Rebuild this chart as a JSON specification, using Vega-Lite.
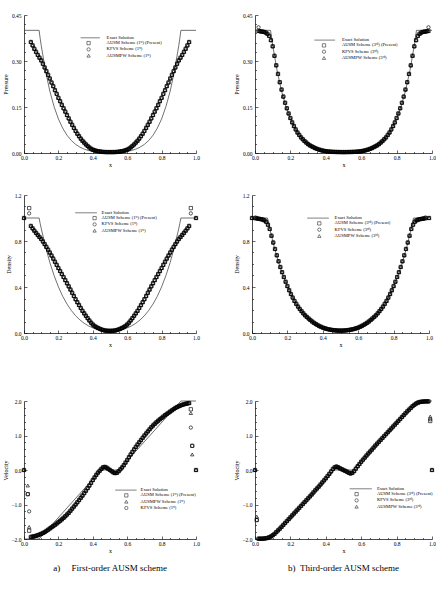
{
"$schema":"https://vega.github.io/schema/vega-lite/v6.json",
"background":"white",
"padding":{"left":2,"top":13,"right":0,"bottom":0},
"config":{"view":{"stroke":null},"font":"Liberation Serif",
"axis":{"labelFont":"Liberation Serif","labelFontSize":5.5,"labelColor":"black","titleFont":"Liberation Serif","titleFontSize":6,"titleFontWeight":"normal","titleColor":"black","domainColor":"black","domainWidth":0.7,"tickColor":"black","tickWidth":0.6,"grid":false,"labelFlush":false,"labelOverlap":false},
"legend":{"labelFont":"Liberation Serif","labelFontSize":4.6,"labelColor":"black","symbolSize":11,"symbolStrokeWidth":0.5,"symbolStrokeColor":"black","symbolFillColor":"transparent","padding":0,"rowPadding":0.3,"labelLimit":0}},
"datasets":{
"ex":[{"x":0,"p":0.4,"r":1},{"x":0.0878,"p":0.4,"r":1},{"x":0.0939,"p":0.374,"r":0.953},{"x":0.1,"p":0.351,"r":0.91},{"x":0.125,"p":0.268,"r":0.751},{"x":0.15,"p":0.202,"r":0.614},{"x":0.175,"p":0.151,"r":0.499},{"x":0.2,"p":0.111,"r":0.401},{"x":0.225,"p":0.0809,"r":0.319},{"x":0.25,"p":0.0579,"r":0.2515},{"x":0.275,"p":0.0408,"r":0.196},{"x":0.3,"p":0.0282,"r":0.15},{"x":0.325,"p":0.0191,"r":0.114},{"x":0.35,"p":0.0126,"r":0.0846},{"x":0.375,"p":0.0081,"r":0.0618},{"x":0.4,"p":0.0051,"r":0.0443},{"x":0.425,"p":0.0031,"r":0.0309},{"x":0.448,"p":0.0019,"r":0.0219},{"x":0.552,"p":0.0019,"r":0.0219},{"x":0.575,"p":0.0031,"r":0.0309},{"x":0.6,"p":0.0051,"r":0.0443},{"x":0.625,"p":0.0081,"r":0.0618},{"x":0.65,"p":0.0126,"r":0.0846},{"x":0.675,"p":0.0191,"r":0.114},{"x":0.7,"p":0.0282,"r":0.15},{"x":0.725,"p":0.0408,"r":0.196},{"x":0.75,"p":0.0579,"r":0.2515},{"x":0.775,"p":0.0809,"r":0.319},{"x":0.8,"p":0.111,"r":0.401},{"x":0.825,"p":0.151,"r":0.499},{"x":0.85,"p":0.202,"r":0.614},{"x":0.875,"p":0.268,"r":0.751},{"x":0.9,"p":0.351,"r":0.91},{"x":0.9061,"p":0.374,"r":0.953},{"x":0.9122,"p":0.4,"r":1},{"x":1,"p":0.4,"r":1}],
"ue":[{"x":0,"u":-2},{"x":0.0878,"u":-2},{"x":0.448,"u":0},{"x":0.552,"u":0},{"x":0.9122,"u":2},{"x":1,"u":2}],
"p1":[{"x":0.04,"a":0.362,"k":0.362,"w":0.362},{"x":0.05,"a":0.351,"k":0.351,"w":0.351},{"x":0.06,"a":0.34,"k":0.34,"w":0.34},{"x":0.07,"a":0.33,"k":0.33,"w":0.33},{"x":0.08,"a":0.32,"k":0.32,"w":0.32},{"x":0.09,"a":0.311,"k":0.311,"w":0.311},{"x":0.1,"a":0.302,"k":0.302,"w":0.302},{"x":0.11,"a":0.291,"k":0.291,"w":0.291},{"x":0.12,"a":0.279,"k":0.279,"w":0.279},{"x":0.13,"a":0.267,"k":0.267,"w":0.267},{"x":0.14,"a":0.255,"k":0.255,"w":0.255},{"x":0.15,"a":0.243,"k":0.243,"w":0.243},{"x":0.16,"a":0.23,"k":0.23,"w":0.23},{"x":0.17,"a":0.218,"k":0.218,"w":0.218},{"x":0.18,"a":0.205,"k":0.205,"w":0.205},{"x":0.19,"a":0.193,"k":0.193,"w":0.193},{"x":0.2,"a":0.18,"k":0.18,"w":0.18},{"x":0.21,"a":0.169,"k":0.169,"w":0.169},{"x":0.22,"a":0.157,"k":0.157,"w":0.157},{"x":0.23,"a":0.146,"k":0.146,"w":0.146},{"x":0.24,"a":0.135,"k":0.135,"w":0.135},{"x":0.25,"a":0.124,"k":0.124,"w":0.124},{"x":0.26,"a":0.113,"k":0.113,"w":0.113},{"x":0.27,"a":0.102,"k":0.102,"w":0.102},{"x":0.28,"a":0.092,"k":0.092,"w":0.092},{"x":0.29,"a":0.082,"k":0.082,"w":0.082},{"x":0.3,"a":0.072,"k":0.072,"w":0.072},{"x":0.31,"a":0.063,"k":0.063,"w":0.063},{"x":0.32,"a":0.055,"k":0.055,"w":0.055},{"x":0.33,"a":0.047,"k":0.047,"w":0.047},{"x":0.34,"a":0.04,"k":0.04,"w":0.04},{"x":0.35,"a":0.034,"k":0.034,"w":0.034},{"x":0.36,"a":0.028,"k":0.028,"w":0.028},{"x":0.37,"a":0.023,"k":0.023,"w":0.023},{"x":0.38,"a":0.018,"k":0.018,"w":0.018},{"x":0.39,"a":0.014,"k":0.014,"w":0.014},{"x":0.4,"a":0.011,"k":0.011,"w":0.011},{"x":0.41,"a":0.009,"k":0.009,"w":0.009},{"x":0.42,"a":0.007,"k":0.007,"w":0.007},{"x":0.43,"a":0.006,"k":0.006,"w":0.006},{"x":0.44,"a":0.005,"k":0.005,"w":0.005},{"x":0.45,"a":0.004,"k":0.004,"w":0.004},{"x":0.46,"a":0.0035,"k":0.0035,"w":0.0035},{"x":0.47,"a":0.0032,"k":0.0032,"w":0.0032},{"x":0.48,"a":0.003,"k":0.003,"w":0.003},{"x":0.49,"a":0.003,"k":0.003,"w":0.003},{"x":0.5,"a":0.003,"k":0.003,"w":0.003},{"x":0.51,"a":0.003,"k":0.003,"w":0.003},{"x":0.52,"a":0.003,"k":0.003,"w":0.003},{"x":0.53,"a":0.0032,"k":0.0032,"w":0.0032},{"x":0.54,"a":0.0035,"k":0.0035,"w":0.0035},{"x":0.55,"a":0.004,"k":0.004,"w":0.004},{"x":0.56,"a":0.005,"k":0.005,"w":0.005},{"x":0.57,"a":0.006,"k":0.006,"w":0.006},{"x":0.58,"a":0.007,"k":0.007,"w":0.007},{"x":0.59,"a":0.009,"k":0.009,"w":0.009},{"x":0.6,"a":0.011,"k":0.011,"w":0.011},{"x":0.61,"a":0.014,"k":0.014,"w":0.014},{"x":0.62,"a":0.018,"k":0.018,"w":0.018},{"x":0.63,"a":0.023,"k":0.023,"w":0.023},{"x":0.64,"a":0.028,"k":0.028,"w":0.028},{"x":0.65,"a":0.034,"k":0.034,"w":0.034},{"x":0.66,"a":0.04,"k":0.04,"w":0.04},{"x":0.67,"a":0.047,"k":0.047,"w":0.047},{"x":0.68,"a":0.055,"k":0.055,"w":0.055},{"x":0.69,"a":0.063,"k":0.063,"w":0.063},{"x":0.7,"a":0.072,"k":0.072,"w":0.072},{"x":0.71,"a":0.082,"k":0.082,"w":0.082},{"x":0.72,"a":0.092,"k":0.092,"w":0.092},{"x":0.73,"a":0.102,"k":0.102,"w":0.102},{"x":0.74,"a":0.113,"k":0.113,"w":0.113},{"x":0.75,"a":0.124,"k":0.124,"w":0.124},{"x":0.76,"a":0.135,"k":0.135,"w":0.135},{"x":0.77,"a":0.146,"k":0.146,"w":0.146},{"x":0.78,"a":0.157,"k":0.157,"w":0.157},{"x":0.79,"a":0.169,"k":0.169,"w":0.169},{"x":0.8,"a":0.18,"k":0.18,"w":0.18},{"x":0.81,"a":0.193,"k":0.193,"w":0.193},{"x":0.82,"a":0.205,"k":0.205,"w":0.205},{"x":0.83,"a":0.218,"k":0.218,"w":0.218},{"x":0.84,"a":0.23,"k":0.23,"w":0.23},{"x":0.85,"a":0.243,"k":0.243,"w":0.243},{"x":0.86,"a":0.255,"k":0.255,"w":0.255},{"x":0.87,"a":0.267,"k":0.267,"w":0.267},{"x":0.88,"a":0.279,"k":0.279,"w":0.279},{"x":0.89,"a":0.291,"k":0.291,"w":0.291},{"x":0.9,"a":0.302,"k":0.302,"w":0.302},{"x":0.91,"a":0.311,"k":0.311,"w":0.311},{"x":0.92,"a":0.32,"k":0.32,"w":0.32},{"x":0.93,"a":0.33,"k":0.33,"w":0.33},{"x":0.94,"a":0.34,"k":0.34,"w":0.34},{"x":0.95,"a":0.351,"k":0.351,"w":0.351},{"x":0.96,"a":0.362,"k":0.362,"w":0.362}],
"r1":[{"x":0,"a":1,"k":1,"w":1},{"x":0.03,"a":1.086,"k":1.04},{"x":0.04,"a":0.931,"k":0.931,"w":0.931},{"x":0.05,"a":0.91,"k":0.91,"w":0.91},{"x":0.06,"a":0.89,"k":0.89,"w":0.89},{"x":0.07,"a":0.871,"k":0.871,"w":0.871},{"x":0.08,"a":0.853,"k":0.853,"w":0.853},{"x":0.09,"a":0.835,"k":0.835,"w":0.835},{"x":0.1,"a":0.818,"k":0.818,"w":0.818},{"x":0.11,"a":0.796,"k":0.796,"w":0.796},{"x":0.12,"a":0.773,"k":0.773,"w":0.773},{"x":0.13,"a":0.749,"k":0.749,"w":0.749},{"x":0.14,"a":0.725,"k":0.725,"w":0.725},{"x":0.15,"a":0.7,"k":0.7,"w":0.7},{"x":0.16,"a":0.674,"k":0.674,"w":0.674},{"x":0.17,"a":0.647,"k":0.647,"w":0.647},{"x":0.18,"a":0.62,"k":0.62,"w":0.62},{"x":0.19,"a":0.593,"k":0.593,"w":0.593},{"x":0.2,"a":0.565,"k":0.565,"w":0.565},{"x":0.21,"a":0.539,"k":0.539,"w":0.539},{"x":0.22,"a":0.513,"k":0.513,"w":0.513},{"x":0.23,"a":0.487,"k":0.487,"w":0.487},{"x":0.24,"a":0.46,"k":0.46,"w":0.46},{"x":0.25,"a":0.433,"k":0.433,"w":0.433},{"x":0.26,"a":0.406,"k":0.406,"w":0.406},{"x":0.27,"a":0.378,"k":0.378,"w":0.378},{"x":0.28,"a":0.35,"k":0.35,"w":0.35},{"x":0.29,"a":0.322,"k":0.322,"w":0.322},{"x":0.3,"a":0.294,"k":0.294,"w":0.294},{"x":0.31,"a":0.268,"k":0.268,"w":0.268},{"x":0.32,"a":0.243,"k":0.243,"w":0.243},{"x":0.33,"a":0.218,"k":0.218,"w":0.218},{"x":0.34,"a":0.193,"k":0.193,"w":0.193},{"x":0.35,"a":0.171,"k":0.171,"w":0.171},{"x":0.36,"a":0.15,"k":0.15,"w":0.15},{"x":0.37,"a":0.129,"k":0.129,"w":0.129},{"x":0.38,"a":0.109,"k":0.109,"w":0.109},{"x":0.39,"a":0.09,"k":0.09,"w":0.09},{"x":0.4,"a":0.074,"k":0.074,"w":0.074},{"x":0.41,"a":0.062,"k":0.062,"w":0.062},{"x":0.42,"a":0.052,"k":0.052,"w":0.052},{"x":0.43,"a":0.044,"k":0.044,"w":0.044},{"x":0.44,"a":0.037,"k":0.037,"w":0.037},{"x":0.45,"a":0.031,"k":0.031,"w":0.031},{"x":0.46,"a":0.026,"k":0.026,"w":0.026},{"x":0.47,"a":0.022,"k":0.022,"w":0.022},{"x":0.48,"a":0.02,"k":0.02,"w":0.02},{"x":0.49,"a":0.019,"k":0.019,"w":0.019},{"x":0.5,"a":0.019,"k":0.019,"w":0.019},{"x":0.51,"a":0.019,"k":0.019,"w":0.019},{"x":0.52,"a":0.02,"k":0.02,"w":0.02},{"x":0.53,"a":0.022,"k":0.022,"w":0.022},{"x":0.54,"a":0.026,"k":0.026,"w":0.026},{"x":0.55,"a":0.031,"k":0.031,"w":0.031},{"x":0.56,"a":0.037,"k":0.037,"w":0.037},{"x":0.57,"a":0.044,"k":0.044,"w":0.044},{"x":0.58,"a":0.052,"k":0.052,"w":0.052},{"x":0.59,"a":0.062,"k":0.062,"w":0.062},{"x":0.6,"a":0.074,"k":0.074,"w":0.074},{"x":0.61,"a":0.09,"k":0.09,"w":0.09},{"x":0.62,"a":0.109,"k":0.109,"w":0.109},{"x":0.63,"a":0.129,"k":0.129,"w":0.129},{"x":0.64,"a":0.15,"k":0.15,"w":0.15},{"x":0.65,"a":0.171,"k":0.171,"w":0.171},{"x":0.66,"a":0.193,"k":0.193,"w":0.193},{"x":0.67,"a":0.218,"k":0.218,"w":0.218},{"x":0.68,"a":0.243,"k":0.243,"w":0.243},{"x":0.69,"a":0.268,"k":0.268,"w":0.268},{"x":0.7,"a":0.294,"k":0.294,"w":0.294},{"x":0.71,"a":0.322,"k":0.322,"w":0.322},{"x":0.72,"a":0.35,"k":0.35,"w":0.35},{"x":0.73,"a":0.378,"k":0.378,"w":0.378},{"x":0.74,"a":0.406,"k":0.406,"w":0.406},{"x":0.75,"a":0.433,"k":0.433,"w":0.433},{"x":0.76,"a":0.46,"k":0.46,"w":0.46},{"x":0.77,"a":0.487,"k":0.487,"w":0.487},{"x":0.78,"a":0.513,"k":0.513,"w":0.513},{"x":0.79,"a":0.539,"k":0.539,"w":0.539},{"x":0.8,"a":0.565,"k":0.565,"w":0.565},{"x":0.81,"a":0.593,"k":0.593,"w":0.593},{"x":0.82,"a":0.62,"k":0.62,"w":0.62},{"x":0.83,"a":0.647,"k":0.647,"w":0.647},{"x":0.84,"a":0.674,"k":0.674,"w":0.674},{"x":0.85,"a":0.7,"k":0.7,"w":0.7},{"x":0.86,"a":0.725,"k":0.725,"w":0.725},{"x":0.87,"a":0.749,"k":0.749,"w":0.749},{"x":0.88,"a":0.773,"k":0.773,"w":0.773},{"x":0.89,"a":0.796,"k":0.796,"w":0.796},{"x":0.9,"a":0.818,"k":0.818,"w":0.818},{"x":0.91,"a":0.835,"k":0.835,"w":0.835},{"x":0.92,"a":0.853,"k":0.853,"w":0.853},{"x":0.93,"a":0.871,"k":0.871,"w":0.871},{"x":0.94,"a":0.89,"k":0.89,"w":0.89},{"x":0.95,"a":0.91,"k":0.91,"w":0.91},{"x":0.96,"a":0.931,"k":0.931,"w":0.931},{"x":0.97,"a":1.086,"k":1.04},{"x":1,"a":1,"k":1,"w":1}],
"u1":[{"x":0,"a":0,"k":0,"w":0},{"x":0.022,"a":-0.7,"k":-0.7,"w":-0.45},{"x":0.03,"a":-1.76,"k":-1.2,"w":-1.65},{"x":0.04,"a":-1.94,"k":-1.94,"w":-1.94},{"x":0.05,"a":-1.93,"k":-1.93,"w":-1.93},{"x":0.06,"a":-1.92,"k":-1.92,"w":-1.92},{"x":0.07,"a":-1.905,"k":-1.905,"w":-1.905},{"x":0.08,"a":-1.89,"k":-1.89,"w":-1.89},{"x":0.09,"a":-1.87,"k":-1.87,"w":-1.87},{"x":0.1,"a":-1.85,"k":-1.85,"w":-1.85},{"x":0.11,"a":-1.825,"k":-1.825,"w":-1.825},{"x":0.12,"a":-1.8,"k":-1.8,"w":-1.8},{"x":0.13,"a":-1.765,"k":-1.765,"w":-1.765},{"x":0.14,"a":-1.73,"k":-1.73,"w":-1.73},{"x":0.15,"a":-1.695,"k":-1.695,"w":-1.695},{"x":0.16,"a":-1.66,"k":-1.66,"w":-1.66},{"x":0.17,"a":-1.625,"k":-1.625,"w":-1.625},{"x":0.18,"a":-1.59,"k":-1.59,"w":-1.59},{"x":0.19,"a":-1.55,"k":-1.55,"w":-1.55},{"x":0.2,"a":-1.51,"k":-1.51,"w":-1.51},{"x":0.21,"a":-1.47,"k":-1.47,"w":-1.47},{"x":0.22,"a":-1.43,"k":-1.43,"w":-1.43},{"x":0.23,"a":-1.385,"k":-1.385,"w":-1.385},{"x":0.24,"a":-1.34,"k":-1.34,"w":-1.34},{"x":0.25,"a":-1.29,"k":-1.29,"w":-1.29},{"x":0.26,"a":-1.24,"k":-1.24,"w":-1.24},{"x":0.27,"a":-1.18,"k":-1.18,"w":-1.18},{"x":0.28,"a":-1.12,"k":-1.12,"w":-1.12},{"x":0.29,"a":-1.06,"k":-1.06,"w":-1.06},{"x":0.3,"a":-1,"k":-1,"w":-1},{"x":0.31,"a":-0.935,"k":-0.935,"w":-0.935},{"x":0.32,"a":-0.87,"k":-0.87,"w":-0.87},{"x":0.33,"a":-0.805,"k":-0.805,"w":-0.805},{"x":0.34,"a":-0.74,"k":-0.74,"w":-0.74},{"x":0.35,"a":-0.67,"k":-0.67,"w":-0.67},{"x":0.36,"a":-0.6,"k":-0.6,"w":-0.6},{"x":0.37,"a":-0.525,"k":-0.525,"w":-0.525},{"x":0.38,"a":-0.45,"k":-0.45,"w":-0.45},{"x":0.39,"a":-0.37,"k":-0.37,"w":-0.37},{"x":0.4,"a":-0.29,"k":-0.29,"w":-0.29},{"x":0.41,"a":-0.215,"k":-0.215,"w":-0.215},{"x":0.42,"a":-0.14,"k":-0.14,"w":-0.14},{"x":0.43,"a":-0.075,"k":-0.075,"w":-0.075},{"x":0.44,"a":-0.02,"k":-0.02,"w":-0.02},{"x":0.45,"a":0.035,"k":0.035,"w":0.035},{"x":0.46,"a":0.08,"k":0.08,"w":0.08},{"x":0.47,"a":0.09,"k":0.09,"w":0.09},{"x":0.48,"a":0.07,"k":0.07,"w":0.07},{"x":0.49,"a":0.035,"k":0.035,"w":0.035},{"x":0.5,"a":0,"k":0,"w":0},{"x":0.51,"a":-0.035,"k":-0.035,"w":-0.035},{"x":0.52,"a":-0.07,"k":-0.07,"w":-0.07},{"x":0.53,"a":-0.09,"k":-0.09,"w":-0.09},{"x":0.54,"a":-0.08,"k":-0.08,"w":-0.08},{"x":0.55,"a":-0.035,"k":-0.035,"w":-0.035},{"x":0.56,"a":0.02,"k":0.02,"w":0.02},{"x":0.57,"a":0.075,"k":0.075,"w":0.075},{"x":0.58,"a":0.14,"k":0.14,"w":0.14},{"x":0.59,"a":0.215,"k":0.215,"w":0.215},{"x":0.6,"a":0.29,"k":0.29,"w":0.29},{"x":0.61,"a":0.37,"k":0.37,"w":0.37},{"x":0.62,"a":0.45,"k":0.45,"w":0.45},{"x":0.63,"a":0.525,"k":0.525,"w":0.525},{"x":0.64,"a":0.6,"k":0.6,"w":0.6},{"x":0.65,"a":0.67,"k":0.67,"w":0.67},{"x":0.66,"a":0.74,"k":0.74,"w":0.74},{"x":0.67,"a":0.805,"k":0.805,"w":0.805},{"x":0.68,"a":0.87,"k":0.87,"w":0.87},{"x":0.69,"a":0.935,"k":0.935,"w":0.935},{"x":0.7,"a":1,"k":1,"w":1},{"x":0.71,"a":1.06,"k":1.06,"w":1.06},{"x":0.72,"a":1.12,"k":1.12,"w":1.12},{"x":0.73,"a":1.18,"k":1.18,"w":1.18},{"x":0.74,"a":1.24,"k":1.24,"w":1.24},{"x":0.75,"a":1.29,"k":1.29,"w":1.29},{"x":0.76,"a":1.34,"k":1.34,"w":1.34},{"x":0.77,"a":1.385,"k":1.385,"w":1.385},{"x":0.78,"a":1.43,"k":1.43,"w":1.43},{"x":0.79,"a":1.47,"k":1.47,"w":1.47},{"x":0.8,"a":1.51,"k":1.51,"w":1.51},{"x":0.81,"a":1.55,"k":1.55,"w":1.55},{"x":0.82,"a":1.59,"k":1.59,"w":1.59},{"x":0.83,"a":1.625,"k":1.625,"w":1.625},{"x":0.84,"a":1.66,"k":1.66,"w":1.66},{"x":0.85,"a":1.695,"k":1.695,"w":1.695},{"x":0.86,"a":1.73,"k":1.73,"w":1.73},{"x":0.87,"a":1.765,"k":1.765,"w":1.765},{"x":0.88,"a":1.8,"k":1.8,"w":1.8},{"x":0.89,"a":1.825,"k":1.825,"w":1.825},{"x":0.9,"a":1.85,"k":1.85,"w":1.85},{"x":0.91,"a":1.87,"k":1.87,"w":1.87},{"x":0.92,"a":1.89,"k":1.89,"w":1.89},{"x":0.93,"a":1.905,"k":1.905,"w":1.905},{"x":0.94,"a":1.92,"k":1.92,"w":1.92},{"x":0.95,"a":1.93,"k":1.93,"w":1.93},{"x":0.96,"a":1.94,"k":1.94,"w":1.94},{"x":0.97,"a":1.76,"k":1.23,"w":1.65},{"x":0.978,"a":0.7,"k":0.7,"w":0.45},{"x":1,"a":0,"k":0,"w":0}],
"p3":[{"x":0.02,"a":0.398,"k":0.41,"w":0.398},{"x":0.03,"a":0.397,"k":0.397,"w":0.397},{"x":0.04,"a":0.396,"k":0.396,"w":0.396},{"x":0.05,"a":0.395,"k":0.395,"w":0.395},{"x":0.06,"a":0.393,"k":0.393,"w":0.393},{"x":0.07,"a":0.389,"k":0.389,"w":0.389},{"x":0.08,"a":0.382,"k":0.382,"w":0.382},{"x":0.09,"a":0.368,"k":0.368,"w":0.368},{"x":0.1,"a":0.348,"k":0.348,"w":0.348},{"x":0.11,"a":0.317,"k":0.317,"w":0.317},{"x":0.12,"a":0.286,"k":0.286,"w":0.286},{"x":0.13,"a":0.258,"k":0.258,"w":0.258},{"x":0.14,"a":0.231,"k":0.231,"w":0.231},{"x":0.15,"a":0.207,"k":0.207,"w":0.207},{"x":0.16,"a":0.184,"k":0.184,"w":0.184},{"x":0.17,"a":0.164,"k":0.164,"w":0.164},{"x":0.18,"a":0.146,"k":0.146,"w":0.146},{"x":0.19,"a":0.129,"k":0.129,"w":0.129},{"x":0.2,"a":0.114,"k":0.114,"w":0.114},{"x":0.21,"a":0.1,"k":0.1,"w":0.1},{"x":0.22,"a":0.088,"k":0.088,"w":0.088},{"x":0.23,"a":0.077,"k":0.077,"w":0.077},{"x":0.24,"a":0.067,"k":0.067,"w":0.067},{"x":0.25,"a":0.059,"k":0.059,"w":0.059},{"x":0.26,"a":0.051,"k":0.051,"w":0.051},{"x":0.27,"a":0.045,"k":0.045,"w":0.045},{"x":0.28,"a":0.039,"k":0.039,"w":0.039},{"x":0.29,"a":0.034,"k":0.034,"w":0.034},{"x":0.3,"a":0.029,"k":0.029,"w":0.029},{"x":0.31,"a":0.025,"k":0.025,"w":0.025},{"x":0.32,"a":0.022,"k":0.022,"w":0.022},{"x":0.33,"a":0.019,"k":0.019,"w":0.019},{"x":0.34,"a":0.016,"k":0.016,"w":0.016},{"x":0.35,"a":0.0137,"k":0.0137,"w":0.0137},{"x":0.36,"a":0.0115,"k":0.0115,"w":0.0115},{"x":0.37,"a":0.0098,"k":0.0098,"w":0.0098},{"x":0.38,"a":0.0082,"k":0.0082,"w":0.0082},{"x":0.39,"a":0.007,"k":0.007,"w":0.007},{"x":0.4,"a":0.006,"k":0.006,"w":0.006},{"x":0.41,"a":0.0052,"k":0.0052,"w":0.0052},{"x":0.42,"a":0.0045,"k":0.0045,"w":0.0045},{"x":0.43,"a":0.0041,"k":0.0041,"w":0.0041},{"x":0.44,"a":0.0037,"k":0.0037,"w":0.0037},{"x":0.45,"a":0.0035,"k":0.0035,"w":0.0035},{"x":0.46,"a":0.0033,"k":0.0033,"w":0.0033},{"x":0.47,"a":0.0032,"k":0.0032,"w":0.0032},{"x":0.48,"a":0.0031,"k":0.0031,"w":0.0031},{"x":0.49,"a":0.003,"k":0.003,"w":0.003},{"x":0.5,"a":0.003,"k":0.003,"w":0.003},{"x":0.51,"a":0.003,"k":0.003,"w":0.003},{"x":0.52,"a":0.0031,"k":0.0031,"w":0.0031},{"x":0.53,"a":0.0032,"k":0.0032,"w":0.0032},{"x":0.54,"a":0.0033,"k":0.0033,"w":0.0033},{"x":0.55,"a":0.0035,"k":0.0035,"w":0.0035},{"x":0.56,"a":0.0037,"k":0.0037,"w":0.0037},{"x":0.57,"a":0.0041,"k":0.0041,"w":0.0041},{"x":0.58,"a":0.0045,"k":0.0045,"w":0.0045},{"x":0.59,"a":0.0052,"k":0.0052,"w":0.0052},{"x":0.6,"a":0.006,"k":0.006,"w":0.006},{"x":0.61,"a":0.007,"k":0.007,"w":0.007},{"x":0.62,"a":0.0082,"k":0.0082,"w":0.0082},{"x":0.63,"a":0.0098,"k":0.0098,"w":0.0098},{"x":0.64,"a":0.0115,"k":0.0115,"w":0.0115},{"x":0.65,"a":0.0137,"k":0.0137,"w":0.0137},{"x":0.66,"a":0.016,"k":0.016,"w":0.016},{"x":0.67,"a":0.019,"k":0.019,"w":0.019},{"x":0.68,"a":0.022,"k":0.022,"w":0.022},{"x":0.69,"a":0.025,"k":0.025,"w":0.025},{"x":0.7,"a":0.029,"k":0.029,"w":0.029},{"x":0.71,"a":0.034,"k":0.034,"w":0.034},{"x":0.72,"a":0.039,"k":0.039,"w":0.039},{"x":0.73,"a":0.045,"k":0.045,"w":0.045},{"x":0.74,"a":0.051,"k":0.051,"w":0.051},{"x":0.75,"a":0.059,"k":0.059,"w":0.059},{"x":0.76,"a":0.067,"k":0.067,"w":0.067},{"x":0.77,"a":0.077,"k":0.077,"w":0.077},{"x":0.78,"a":0.088,"k":0.088,"w":0.088},{"x":0.79,"a":0.1,"k":0.1,"w":0.1},{"x":0.8,"a":0.114,"k":0.114,"w":0.114},{"x":0.81,"a":0.129,"k":0.129,"w":0.129},{"x":0.82,"a":0.146,"k":0.146,"w":0.146},{"x":0.83,"a":0.164,"k":0.164,"w":0.164},{"x":0.84,"a":0.184,"k":0.184,"w":0.184},{"x":0.85,"a":0.207,"k":0.207,"w":0.207},{"x":0.86,"a":0.231,"k":0.231,"w":0.231},{"x":0.87,"a":0.258,"k":0.258,"w":0.258},{"x":0.88,"a":0.286,"k":0.286,"w":0.286},{"x":0.89,"a":0.317,"k":0.317,"w":0.317},{"x":0.9,"a":0.348,"k":0.348,"w":0.348},{"x":0.91,"a":0.368,"k":0.368,"w":0.368},{"x":0.92,"a":0.382,"k":0.382,"w":0.382},{"x":0.93,"a":0.389,"k":0.389,"w":0.389},{"x":0.94,"a":0.393,"k":0.393,"w":0.393},{"x":0.95,"a":0.395,"k":0.395,"w":0.395},{"x":0.96,"a":0.396,"k":0.396,"w":0.396},{"x":0.97,"a":0.397,"k":0.397,"w":0.397},{"x":0.98,"a":0.398,"k":0.41,"w":0.398}],
"r3":[{"x":0,"a":1,"k":1,"w":1},{"x":0.02,"a":0.998,"k":1.005,"w":0.998},{"x":0.03,"a":0.996,"k":0.996,"w":0.996},{"x":0.04,"a":0.993,"k":0.993,"w":0.993},{"x":0.05,"a":0.99,"k":0.99,"w":0.99},{"x":0.06,"a":0.987,"k":0.987,"w":0.987},{"x":0.07,"a":0.98,"k":0.98,"w":0.98},{"x":0.08,"a":0.968,"k":0.968,"w":0.968},{"x":0.09,"a":0.942,"k":0.942,"w":0.942},{"x":0.1,"a":0.905,"k":0.905,"w":0.905},{"x":0.11,"a":0.846,"k":0.846,"w":0.846},{"x":0.12,"a":0.787,"k":0.787,"w":0.787},{"x":0.13,"a":0.731,"k":0.731,"w":0.731},{"x":0.14,"a":0.676,"k":0.676,"w":0.676},{"x":0.15,"a":0.624,"k":0.624,"w":0.624},{"x":0.16,"a":0.574,"k":0.574,"w":0.574},{"x":0.17,"a":0.529,"k":0.529,"w":0.529},{"x":0.18,"a":0.487,"k":0.487,"w":0.487},{"x":0.19,"a":0.446,"k":0.446,"w":0.446},{"x":0.2,"a":0.408,"k":0.408,"w":0.408},{"x":0.21,"a":0.372,"k":0.372,"w":0.372},{"x":0.22,"a":0.339,"k":0.339,"w":0.339},{"x":0.23,"a":0.308,"k":0.308,"w":0.308},{"x":0.24,"a":0.279,"k":0.279,"w":0.279},{"x":0.25,"a":0.254,"k":0.254,"w":0.254},{"x":0.26,"a":0.23,"k":0.23,"w":0.23},{"x":0.27,"a":0.209,"k":0.209,"w":0.209},{"x":0.28,"a":0.19,"k":0.19,"w":0.19},{"x":0.29,"a":0.171,"k":0.171,"w":0.171},{"x":0.3,"a":0.154,"k":0.154,"w":0.154},{"x":0.31,"a":0.14,"k":0.14,"w":0.14},{"x":0.32,"a":0.126,"k":0.126,"w":0.126},{"x":0.33,"a":0.113,"k":0.113,"w":0.113},{"x":0.34,"a":0.1,"k":0.1,"w":0.1},{"x":0.35,"a":0.089,"k":0.089,"w":0.089},{"x":0.36,"a":0.079,"k":0.079,"w":0.079},{"x":0.37,"a":0.07,"k":0.07,"w":0.07},{"x":0.38,"a":0.061,"k":0.061,"w":0.061},{"x":0.39,"a":0.054,"k":0.054,"w":0.054},{"x":0.4,"a":0.047,"k":0.047,"w":0.047},{"x":0.41,"a":0.042,"k":0.042,"w":0.042},{"x":0.42,"a":0.037,"k":0.037,"w":0.037},{"x":0.43,"a":0.033,"k":0.033,"w":0.033},{"x":0.44,"a":0.03,"k":0.03,"w":0.03},{"x":0.45,"a":0.027,"k":0.027,"w":0.027},{"x":0.46,"a":0.025,"k":0.025,"w":0.025},{"x":0.47,"a":0.023,"k":0.023,"w":0.023},{"x":0.48,"a":0.022,"k":0.022,"w":0.022},{"x":0.49,"a":0.021,"k":0.021,"w":0.021},{"x":0.5,"a":0.021,"k":0.021,"w":0.021},{"x":0.51,"a":0.021,"k":0.021,"w":0.021},{"x":0.52,"a":0.022,"k":0.022,"w":0.022},{"x":0.53,"a":0.023,"k":0.023,"w":0.023},{"x":0.54,"a":0.025,"k":0.025,"w":0.025},{"x":0.55,"a":0.027,"k":0.027,"w":0.027},{"x":0.56,"a":0.03,"k":0.03,"w":0.03},{"x":0.57,"a":0.033,"k":0.033,"w":0.033},{"x":0.58,"a":0.037,"k":0.037,"w":0.037},{"x":0.59,"a":0.042,"k":0.042,"w":0.042},{"x":0.6,"a":0.047,"k":0.047,"w":0.047},{"x":0.61,"a":0.054,"k":0.054,"w":0.054},{"x":0.62,"a":0.061,"k":0.061,"w":0.061},{"x":0.63,"a":0.07,"k":0.07,"w":0.07},{"x":0.64,"a":0.079,"k":0.079,"w":0.079},{"x":0.65,"a":0.089,"k":0.089,"w":0.089},{"x":0.66,"a":0.1,"k":0.1,"w":0.1},{"x":0.67,"a":0.113,"k":0.113,"w":0.113},{"x":0.68,"a":0.126,"k":0.126,"w":0.126},{"x":0.69,"a":0.14,"k":0.14,"w":0.14},{"x":0.7,"a":0.154,"k":0.154,"w":0.154},{"x":0.71,"a":0.171,"k":0.171,"w":0.171},{"x":0.72,"a":0.19,"k":0.19,"w":0.19},{"x":0.73,"a":0.209,"k":0.209,"w":0.209},{"x":0.74,"a":0.23,"k":0.23,"w":0.23},{"x":0.75,"a":0.254,"k":0.254,"w":0.254},{"x":0.76,"a":0.279,"k":0.279,"w":0.279},{"x":0.77,"a":0.308,"k":0.308,"w":0.308},{"x":0.78,"a":0.339,"k":0.339,"w":0.339},{"x":0.79,"a":0.372,"k":0.372,"w":0.372},{"x":0.8,"a":0.408,"k":0.408,"w":0.408},{"x":0.81,"a":0.446,"k":0.446,"w":0.446},{"x":0.82,"a":0.487,"k":0.487,"w":0.487},{"x":0.83,"a":0.529,"k":0.529,"w":0.529},{"x":0.84,"a":0.574,"k":0.574,"w":0.574},{"x":0.85,"a":0.624,"k":0.624,"w":0.624},{"x":0.86,"a":0.676,"k":0.676,"w":0.676},{"x":0.87,"a":0.731,"k":0.731,"w":0.731},{"x":0.88,"a":0.787,"k":0.787,"w":0.787},{"x":0.89,"a":0.846,"k":0.846,"w":0.846},{"x":0.9,"a":0.905,"k":0.905,"w":0.905},{"x":0.91,"a":0.942,"k":0.942,"w":0.942},{"x":0.92,"a":0.968,"k":0.968,"w":0.968},{"x":0.93,"a":0.98,"k":0.98,"w":0.98},{"x":0.94,"a":0.987,"k":0.987,"w":0.987},{"x":0.95,"a":0.99,"k":0.99,"w":0.99},{"x":0.96,"a":0.993,"k":0.993,"w":0.993},{"x":0.97,"a":0.996,"k":0.996,"w":0.996},{"x":0.98,"a":0.998,"k":1.005,"w":0.998},{"x":1,"a":1,"k":1,"w":1}],
"u3":[{"x":0,"a":0,"k":0,"w":0},{"x":0.01,"a":-1.45,"k":-1.45,"w":-1.35},{"x":0.02,"a":-1.99,"k":-1.99,"w":-1.99},{"x":0.03,"a":-1.99,"k":-1.99,"w":-1.99},{"x":0.04,"a":-1.99,"k":-1.99,"w":-1.99},{"x":0.05,"a":-1.985,"k":-1.985,"w":-1.985},{"x":0.06,"a":-1.98,"k":-1.98,"w":-1.98},{"x":0.07,"a":-1.97,"k":-1.97,"w":-1.97},{"x":0.08,"a":-1.95,"k":-1.95,"w":-1.95},{"x":0.09,"a":-1.925,"k":-1.925,"w":-1.925},{"x":0.1,"a":-1.89,"k":-1.89,"w":-1.89},{"x":0.11,"a":-1.85,"k":-1.85,"w":-1.85},{"x":0.12,"a":-1.8,"k":-1.8,"w":-1.8},{"x":0.13,"a":-1.75,"k":-1.75,"w":-1.75},{"x":0.14,"a":-1.7,"k":-1.7,"w":-1.7},{"x":0.15,"a":-1.645,"k":-1.645,"w":-1.645},{"x":0.16,"a":-1.59,"k":-1.59,"w":-1.59},{"x":0.17,"a":-1.535,"k":-1.535,"w":-1.535},{"x":0.18,"a":-1.48,"k":-1.48,"w":-1.48},{"x":0.19,"a":-1.425,"k":-1.425,"w":-1.425},{"x":0.2,"a":-1.37,"k":-1.37,"w":-1.37},{"x":0.21,"a":-1.315,"k":-1.315,"w":-1.315},{"x":0.22,"a":-1.26,"k":-1.26,"w":-1.26},{"x":0.23,"a":-1.205,"k":-1.205,"w":-1.205},{"x":0.24,"a":-1.15,"k":-1.15,"w":-1.15},{"x":0.25,"a":-1.095,"k":-1.095,"w":-1.095},{"x":0.26,"a":-1.04,"k":-1.04,"w":-1.04},{"x":0.27,"a":-0.985,"k":-0.985,"w":-0.985},{"x":0.28,"a":-0.93,"k":-0.93,"w":-0.93},{"x":0.29,"a":-0.875,"k":-0.875,"w":-0.875},{"x":0.3,"a":-0.82,"k":-0.82,"w":-0.82},{"x":0.31,"a":-0.765,"k":-0.765,"w":-0.765},{"x":0.32,"a":-0.71,"k":-0.71,"w":-0.71},{"x":0.33,"a":-0.65,"k":-0.65,"w":-0.65},{"x":0.34,"a":-0.59,"k":-0.59,"w":-0.59},{"x":0.35,"a":-0.535,"k":-0.535,"w":-0.535},{"x":0.36,"a":-0.48,"k":-0.48,"w":-0.48},{"x":0.37,"a":-0.42,"k":-0.42,"w":-0.42},{"x":0.38,"a":-0.36,"k":-0.36,"w":-0.36},{"x":0.39,"a":-0.3,"k":-0.3,"w":-0.3},{"x":0.4,"a":-0.24,"k":-0.24,"w":-0.24},{"x":0.41,"a":-0.175,"k":-0.175,"w":-0.175},{"x":0.42,"a":-0.11,"k":-0.11,"w":-0.11},{"x":0.43,"a":-0.04,"k":-0.04,"w":-0.04},{"x":0.44,"a":0.03,"k":0.03,"w":0.03},{"x":0.45,"a":0.08,"k":0.08,"w":0.08},{"x":0.46,"a":0.1,"k":0.1,"w":0.1},{"x":0.47,"a":0.08,"k":0.08,"w":0.08},{"x":0.48,"a":0.05,"k":0.05,"w":0.05},{"x":0.49,"a":0.025,"k":0.025,"w":0.025},{"x":0.5,"a":0,"k":0,"w":0},{"x":0.51,"a":-0.025,"k":-0.025,"w":-0.025},{"x":0.52,"a":-0.05,"k":-0.05,"w":-0.05},{"x":0.53,"a":-0.08,"k":-0.08,"w":-0.08},{"x":0.54,"a":-0.1,"k":-0.1,"w":-0.1},{"x":0.55,"a":-0.08,"k":-0.08,"w":-0.08},{"x":0.56,"a":-0.03,"k":-0.03,"w":-0.03},{"x":0.57,"a":0.04,"k":0.04,"w":0.04},{"x":0.58,"a":0.11,"k":0.11,"w":0.11},{"x":0.59,"a":0.175,"k":0.175,"w":0.175},{"x":0.6,"a":0.24,"k":0.24,"w":0.24},{"x":0.61,"a":0.3,"k":0.3,"w":0.3},{"x":0.62,"a":0.36,"k":0.36,"w":0.36},{"x":0.63,"a":0.42,"k":0.42,"w":0.42},{"x":0.64,"a":0.48,"k":0.48,"w":0.48},{"x":0.65,"a":0.535,"k":0.535,"w":0.535},{"x":0.66,"a":0.59,"k":0.59,"w":0.59},{"x":0.67,"a":0.65,"k":0.65,"w":0.65},{"x":0.68,"a":0.71,"k":0.71,"w":0.71},{"x":0.69,"a":0.765,"k":0.765,"w":0.765},{"x":0.7,"a":0.82,"k":0.82,"w":0.82},{"x":0.71,"a":0.875,"k":0.875,"w":0.875},{"x":0.72,"a":0.93,"k":0.93,"w":0.93},{"x":0.73,"a":0.985,"k":0.985,"w":0.985},{"x":0.74,"a":1.04,"k":1.04,"w":1.04},{"x":0.75,"a":1.095,"k":1.095,"w":1.095},{"x":0.76,"a":1.15,"k":1.15,"w":1.15},{"x":0.77,"a":1.205,"k":1.205,"w":1.205},{"x":0.78,"a":1.26,"k":1.26,"w":1.26},{"x":0.79,"a":1.315,"k":1.315,"w":1.315},{"x":0.8,"a":1.37,"k":1.37,"w":1.37},{"x":0.81,"a":1.425,"k":1.425,"w":1.425},{"x":0.82,"a":1.48,"k":1.48,"w":1.48},{"x":0.83,"a":1.535,"k":1.535,"w":1.535},{"x":0.84,"a":1.59,"k":1.59,"w":1.59},{"x":0.85,"a":1.645,"k":1.645,"w":1.645},{"x":0.86,"a":1.7,"k":1.7,"w":1.7},{"x":0.87,"a":1.75,"k":1.75,"w":1.75},{"x":0.88,"a":1.8,"k":1.8,"w":1.8},{"x":0.89,"a":1.85,"k":1.85,"w":1.85},{"x":0.9,"a":1.89,"k":1.89,"w":1.89},{"x":0.91,"a":1.925,"k":1.925,"w":1.925},{"x":0.92,"a":1.95,"k":1.95,"w":1.95},{"x":0.93,"a":1.97,"k":1.97,"w":1.97},{"x":0.94,"a":1.98,"k":1.98,"w":1.98},{"x":0.95,"a":1.985,"k":1.985,"w":1.985},{"x":0.96,"a":1.99,"k":1.99,"w":1.99},{"x":0.97,"a":1.99,"k":1.99,"w":1.99},{"x":0.98,"a":1.99,"k":1.99,"w":1.99},{"x":0.99,"a":1.42,"k":1.47,"w":1.55},{"x":1,"a":0,"k":0,"w":0}]
},
"resolve":{"scale":{"shape":"independent"},"legend":{"shape":"independent"}},
"spacing":50,
"vconcat":[
{"spacing":25,"resolve":{"scale":{"shape":"independent"},"legend":{"shape":"independent"}},
"vconcat":[
{"spacing":33,"resolve":{"scale":{"shape":"independent"},"legend":{"shape":"independent"}},
"hconcat":[
{"width":172,"height":138,"resolve":{"axis":{"x":"independent","y":"independent"}},
"layer":[
{"data":{"name":"ex"},"mark":{"type":"line","color":"#333","strokeWidth":0.7},
"encoding":{"x":{"field":"x","type":"quantitative","scale":{"domain":[0,1],"nice":false},"axis":{"orient":"bottom","values":[0,0.2,0.4,0.6,0.8,1],"format":".1f","tickSize":-3,"labelPadding":5,"title":"x","titlePadding":1}},
"y":{"field":"p","type":"quantitative","scale":{"domain":[0,0.45],"nice":false,"zero":false},"axis":{"orient":"left","values":[0,0.15,0.3,0.45],"format":".2f","tickSize":-3,"labelPadding":6,"title":"Pressure","titlePadding":3}}}},
{"data":{"name":"p1"},"transform":[{"fold":["a","k","w"],"as":["s","v"]},{"filter":"isValid(datum.v)"}],
"mark":{"type":"point","filled":false,"color":"black","strokeWidth":0.65,"size":11,"opacity":1},
"encoding":{"x":{"field":"x","type":"quantitative","axis":{"orient":"bottom","values":[0.05,0.1,0.15,0.25,0.3,0.35,0.45,0.5,0.55,0.65,0.7,0.75,0.85,0.9,0.95],"labels":false,"domain":false,"tickSize":-1.5,"title":null}},
"y":{"field":"v","type":"quantitative","axis":{"orient":"left","values":[0.03,0.06,0.09,0.12,0.18,0.21,0.24,0.27,0.33,0.36,0.39,0.42],"labels":false,"domain":false,"tickSize":-1.5,"title":null}},
"shape":{"field":"s","type":"nominal","scale":{"domain":["E","a","k","w"],"range":["M-4.8,0H6.8","square","circle","triangle-up"]},
"legend":{"orient":"none","legendX":62.3,"legendY":20.5,"labelOffset":15.7,"title":null,"labelExpr":"datum.label=='E'?'Exact Solution':datum.label=='a'?'AUSM Scheme (1ˢᵗ) (Present)':datum.label=='k'?'KFVS Scheme (1ˢᵗ)':'AUSMPW Scheme (1ˢᵗ)'"}}}}
]},
{"width":177,"height":138,"resolve":{"axis":{"x":"independent","y":"independent"}},
"layer":[
{"data":{"name":"ex"},"mark":{"type":"line","color":"#333","strokeWidth":0.7},
"encoding":{"x":{"field":"x","type":"quantitative","scale":{"domain":[0,1],"nice":false},"axis":{"orient":"bottom","values":[0,0.2,0.4,0.6,0.8,1],"format":".1f","tickSize":-3,"labelPadding":5,"title":"x","titlePadding":1}},
"y":{"field":"p","type":"quantitative","scale":{"domain":[0,0.45],"nice":false,"zero":false},"axis":{"orient":"left","values":[0,0.15,0.3,0.45],"format":".2f","tickSize":-3,"labelPadding":6,"title":"Pressure","titlePadding":3}}}},
{"data":{"name":"p3"},"transform":[{"fold":["a","k","w"],"as":["s","v"]},{"filter":"isValid(datum.v)"}],
"mark":{"type":"point","filled":false,"color":"black","strokeWidth":0.65,"size":11,"opacity":1},
"encoding":{"x":{"field":"x","type":"quantitative","axis":{"orient":"bottom","values":[0.05,0.1,0.15,0.25,0.3,0.35,0.45,0.5,0.55,0.65,0.7,0.75,0.85,0.9,0.95],"labels":false,"domain":false,"tickSize":-1.5,"title":null}},
"y":{"field":"v","type":"quantitative","axis":{"orient":"left","values":[0.03,0.06,0.09,0.12,0.18,0.21,0.24,0.27,0.33,0.36,0.39,0.42],"labels":false,"domain":false,"tickSize":-1.5,"title":null}},
"shape":{"field":"s","type":"nominal","scale":{"domain":["E","a","k","w"],"range":["M-5.8,0H6.7","square","circle","triangle-up"]},
"legend":{"orient":"none","legendX":66.7,"legendY":22.8,"labelOffset":15.6,"title":null,"labelExpr":"datum.label=='E'?'Exact Solution':datum.label=='a'?'AUSM Scheme (3ʳᵈ) (Present)':datum.label=='k'?'KFVS Scheme (3ʳᵈ)':'AUSMPW Scheme (3ʳᵈ)'"}}}}
]}
]},
{"spacing":33,"resolve":{"scale":{"shape":"independent"},"legend":{"shape":"independent"}},
"hconcat":[
{"width":172,"height":138,"resolve":{"axis":{"x":"independent","y":"independent"}},
"layer":[
{"data":{"name":"ex"},"mark":{"type":"line","color":"#333","strokeWidth":0.7},
"encoding":{"x":{"field":"x","type":"quantitative","scale":{"domain":[0,1],"nice":false},"axis":{"orient":"bottom","values":[0,0.2,0.4,0.6,0.8,1],"format":".1f","tickSize":-3,"labelPadding":5,"title":"x","titlePadding":1}},
"y":{"field":"r","type":"quantitative","scale":{"domain":[0,1.2],"nice":false,"zero":false},"axis":{"orient":"left","values":[0,0.4,0.8,1.2],"format":".1f","tickSize":-3,"labelPadding":6,"title":"Density","titlePadding":3}}}},
{"data":{"name":"r1"},"transform":[{"fold":["a","k","w"],"as":["s","v"]},{"filter":"isValid(datum.v)"}],
"mark":{"type":"point","filled":false,"color":"black","strokeWidth":0.65,"size":11,"opacity":1},
"encoding":{"x":{"field":"x","type":"quantitative","axis":{"orient":"bottom","values":[0.05,0.1,0.15,0.25,0.3,0.35,0.45,0.5,0.55,0.65,0.7,0.75,0.85,0.9,0.95],"labels":false,"domain":false,"tickSize":-1.5,"title":null}},
"y":{"field":"v","type":"quantitative","axis":{"orient":"left","values":[0.1,0.2,0.3,0.5,0.6,0.7,0.9,1.0,1.1],"labels":false,"domain":false,"tickSize":-1.5,"title":null}},
"shape":{"field":"s","type":"nominal","scale":{"domain":["E","a","k","w"],"range":["M-11.7,0H1.4","square","circle","triangle-up"]},
"legend":{"orient":"none","legendX":68.3,"legendY":15.5,"labelOffset":4.7,"title":null,"labelExpr":"datum.label=='E'?'Exact Solution':datum.label=='a'?'AUSM Scheme (1ˢᵗ) (Present)':datum.label=='k'?'KFVS Scheme (1ˢᵗ)':'AUSMPW Scheme (1ˢᵗ)'"}}}}
]},
{"width":177,"height":138,"resolve":{"axis":{"x":"independent","y":"independent"}},
"layer":[
{"data":{"name":"ex"},"mark":{"type":"line","color":"#333","strokeWidth":0.7},
"encoding":{"x":{"field":"x","type":"quantitative","scale":{"domain":[0,1],"nice":false},"axis":{"orient":"bottom","values":[0,0.2,0.4,0.6,0.8,1],"format":".1f","tickSize":-3,"labelPadding":5,"title":"x","titlePadding":1}},
"y":{"field":"r","type":"quantitative","scale":{"domain":[0,1.2],"nice":false,"zero":false},"axis":{"orient":"left","values":[0,0.4,0.8,1.2],"format":".1f","tickSize":-3,"labelPadding":6,"title":"Density","titlePadding":3}}}},
{"data":{"name":"r3"},"transform":[{"fold":["a","k","w"],"as":["s","v"]},{"filter":"isValid(datum.v)"}],
"mark":{"type":"point","filled":false,"color":"black","strokeWidth":0.65,"size":11,"opacity":1},
"encoding":{"x":{"field":"x","type":"quantitative","axis":{"orient":"bottom","values":[0.05,0.1,0.15,0.25,0.3,0.35,0.45,0.5,0.55,0.65,0.7,0.75,0.85,0.9,0.95],"labels":false,"domain":false,"tickSize":-1.5,"title":null}},
"y":{"field":"v","type":"quantitative","axis":{"orient":"left","values":[0.1,0.2,0.3,0.5,0.6,0.7,0.9,1.0,1.1],"labels":false,"domain":false,"tickSize":-1.5,"title":null}},
"shape":{"field":"s","type":"nominal","scale":{"domain":["E","a","k","w"],"range":["M-7.3,0H5.8","square","circle","triangle-up"]},
"legend":{"orient":"none","legendX":65,"legendY":20.8,"labelOffset":13,"title":null,"labelExpr":"datum.label=='E'?'Exact Solution':datum.label=='a'?'AUSM Scheme (3ʳᵈ) (Present)':datum.label=='k'?'KFVS Scheme (3ʳᵈ)':'AUSMPW Scheme (3ʳᵈ)'"}}}}
]}
]}
]},
{"spacing":33,"resolve":{"scale":{"shape":"independent"},"legend":{"shape":"independent"}},
"hconcat":[
{"width":172,"height":138,"resolve":{"axis":{"x":"independent","y":"independent"}},
"title":{"text":"a)\u00a0\u00a0\u00a0\u00a0\u00a0First-order AUSM scheme","orient":"bottom","offset":10,"fontSize":9,"font":"Liberation Serif","fontWeight":"normal","color":"black","anchor":"middle"},
"layer":[
{"data":{"name":"ue"},"mark":{"type":"line","color":"#333","strokeWidth":0.7},
"encoding":{"x":{"field":"x","type":"quantitative","scale":{"domain":[0,1],"nice":false},"axis":{"orient":"bottom","values":[0,0.2,0.4,0.6,0.8,1],"format":".1f","tickSize":-3,"labelPadding":5,"title":"x","titlePadding":1}},
"y":{"field":"u","type":"quantitative","scale":{"domain":[-2,2],"nice":false,"zero":false},"axis":{"orient":"left","values":[-2,-1,0,1,2],"format":".1f","tickSize":-3,"labelPadding":6,"title":"Velocity","titlePadding":3}}}},
{"data":{"name":"u1"},"transform":[{"fold":["a","k","w"],"as":["s","v"]},{"filter":"isValid(datum.v)"}],
"mark":{"type":"point","filled":false,"color":"black","strokeWidth":0.65,"size":11,"opacity":1},
"encoding":{"x":{"field":"x","type":"quantitative","axis":{"orient":"bottom","values":[0.05,0.1,0.15,0.25,0.3,0.35,0.45,0.5,0.55,0.65,0.7,0.75,0.85,0.9,0.95],"labels":false,"domain":false,"tickSize":-1.5,"title":null}},
"y":{"field":"v","type":"quantitative","axis":{"orient":"left","values":[-1.8,-1.6,-1.4,-1.2,-0.8,-0.6,-0.4,-0.2,0.2,0.4,0.6,0.8,1.2,1.4,1.6,1.8],"labels":false,"domain":false,"tickSize":-1.5,"title":null}},
"shape":{"field":"s","type":"nominal","scale":{"domain":["E","a","w","k"],"range":["M-6.7,0H6.2","square","triangle-up","circle"]},
"legend":{"orient":"none","legendX":100,"legendY":86.8,"labelOffset":12,"title":null,"labelExpr":"datum.label=='E'?'Exact Solution':datum.label=='a'?'AUSM Scheme (1ˢᵗ) (Present)':datum.label=='k'?'KFVS Scheme (1ˢᵗ)':'AUSMPW Scheme (1ˢᵗ)'"}}}}
]},
{"width":177,"height":138,"resolve":{"axis":{"x":"independent","y":"independent"}},
"title":{"text":"b)\u00a0\u00a0Third-order AUSM scheme","orient":"bottom","offset":10,"fontSize":9,"font":"Liberation Serif","fontWeight":"normal","color":"black","anchor":"middle"},
"layer":[
{"data":{"name":"ue"},"mark":{"type":"line","color":"#333","strokeWidth":0.7},
"encoding":{"x":{"field":"x","type":"quantitative","scale":{"domain":[0,1],"nice":false},"axis":{"orient":"bottom","values":[0,0.2,0.4,0.6,0.8,1],"format":".1f","tickSize":-3,"labelPadding":5,"title":"x","titlePadding":1}},
"y":{"field":"u","type":"quantitative","scale":{"domain":[-2,2],"nice":false,"zero":false},"axis":{"orient":"left","values":[-2,-1,0,1,2],"format":".1f","tickSize":-3,"labelPadding":6,"title":"Velocity","titlePadding":3}}}},
{"data":{"name":"u3"},"transform":[{"fold":["a","k","w"],"as":["s","v"]},{"filter":"isValid(datum.v)"}],
"mark":{"type":"point","filled":false,"color":"black","strokeWidth":0.65,"size":11,"opacity":1},
"encoding":{"x":{"field":"x","type":"quantitative","axis":{"orient":"bottom","values":[0.05,0.1,0.15,0.25,0.3,0.35,0.45,0.5,0.55,0.65,0.7,0.75,0.85,0.9,0.95],"labels":false,"domain":false,"tickSize":-1.5,"title":null}},
"y":{"field":"v","type":"quantitative","axis":{"orient":"left","values":[-1.8,-1.6,-1.4,-1.2,-0.8,-0.6,-0.4,-0.2,0.2,0.4,0.6,0.8,1.2,1.4,1.6,1.8],"labels":false,"domain":false,"tickSize":-1.5,"title":null}},
"shape":{"field":"s","type":"nominal","scale":{"domain":["E","a","k","w"],"range":["M-4.2,0H9.2","square","circle","triangle-up"]},
"legend":{"orient":"none","legendX":99.3,"legendY":85.5,"labelOffset":18,"title":null,"labelExpr":"datum.label=='E'?'Exact Solution':datum.label=='a'?'AUSM Scheme (3ʳᵈ) (Present)':datum.label=='k'?'KFVS Scheme (3ʳᵈ)':'AUSMPW Scheme (3ʳᵈ)'"}}}}
]}
]}
]
}
